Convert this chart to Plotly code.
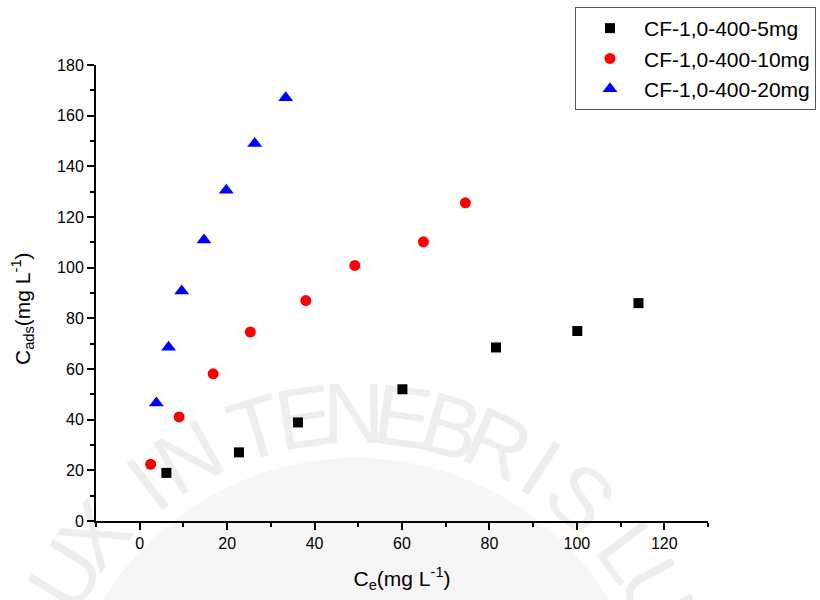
import math
import plotly.graph_objects as go

# Adsorption isotherm data: equilibrium concentration vs adsorbed concentration
ce_5mg = [6.1, 22.7, 36.2, 60.1, 81.5, 100.1, 114.1]
cads_5mg = [19.0, 27.1, 38.9, 52.0, 68.5, 75.0, 86.0]

ce_10mg = [2.5, 9.0, 16.8, 25.3, 38.0, 49.2, 64.9, 74.5]
cads_10mg = [22.4, 41.1, 58.1, 74.6, 87.0, 100.9, 110.2, 125.6]

ce_20mg = [3.8, 6.6, 9.6, 14.7, 19.8, 26.3, 33.4]
cads_20mg = [46.6, 68.6, 90.8, 110.9, 130.6, 149.0, 167.1]

series_names = ["CF-1,0-400-5mg", "CF-1,0-400-10mg", "CF-1,0-400-20mg"]

x_range = [-10, 130]
y_range = [0, 180]

# Plot area in pixels (canvas 820 x 600)
L, R_EDGE, T, B = 96, 708, 65, 521
W, H = R_EDGE - L, B - T

FONT = "Liberation Sans, Arial, sans-serif"

fig = go.Figure()
fig.add_trace(go.Scatter(
    x=ce_5mg, y=cads_5mg, mode="markers", name=series_names[0],
    marker=dict(symbol="square", size=10, color="#000000", line=dict(width=0)),
))
fig.add_trace(go.Scatter(
    x=ce_10mg, y=cads_10mg, mode="markers", name=series_names[1],
    marker=dict(symbol="circle", size=11, color="#ff0000", line=dict(width=0)),
))
fig.add_trace(go.Scatter(
    x=ce_20mg, y=cads_20mg, mode="markers", name=series_names[2],
    marker=dict(symbol="triangle-up", size=13, color="#0000ff", line=dict(width=0)),
))


def to_paper(px, py):
    return (px - L) / W, (B - py) / H


# Faint seal watermark in the background
shapes = []
seal_cx, seal_cy = 356, 755
disk_r = 297
x0, y0 = to_paper(seal_cx - disk_r, seal_cy + disk_r)
x1, y1 = to_paper(seal_cx + disk_r, seal_cy - disk_r)
shapes.append(dict(type="circle", xref="paper", yref="paper",
                   x0=x0, y0=y0, x1=x1, y1=y1, layer="below",
                   fillcolor="#f6f6f6", line=dict(width=0)))

motto = "LUX IN TENEBRIS LUCET"
ring_r = 350
step, space_extra = 8.3, 4.0
angle = -17.0 - 5 * step - 2 * space_extra   # so that the "T" of TENEBRIS sits at -17 deg
for ch in motto:
    if ch == " ":
        angle += space_extra
        continue
    th = math.radians(angle)
    px = seal_cx + ring_r * math.sin(th)
    py = seal_cy - ring_r * math.cos(th)
    if py < 595 and 0 < px < 820:
        xp, yp = to_paper(px, py)
        shapes.append(dict(
            type="rect", xref="paper", yref="paper",
            x0=xp - 0.02, x1=xp + 0.02, y0=yp - 0.02, y1=yp + 0.02,
            layer="below", line=dict(width=0), fillcolor="rgba(0,0,0,0)",
            label=dict(text=ch, textangle=angle, textposition="middle center",
                       font=dict(family=FONT, size=86, color="#eeeeee")),
        ))
    angle += step

axis_common = dict(
    showline=True, linecolor="#000000", linewidth=2,
    showgrid=False, zeroline=False,
    ticks="outside", ticklen=7, tickwidth=2, tickcolor="#000000",
    tickfont=dict(family=FONT, size=16, color="#000000"),
)
minor_ticks = dict(ticks="outside", ticklen=4, tickwidth=2, tickcolor="#000000",
                   dtick=10, tick0=0, showgrid=False)

fig.update_xaxes(
    range=x_range, tick0=0, dtick=20, minor=minor_ticks,
    title=dict(text="C<sub>e</sub>(mg L<sup>-1</sup>)",
               font=dict(family=FONT, size=21, color="#000000"), standoff=20),
    **axis_common,
)
fig.update_yaxes(
    range=y_range, tick0=0, dtick=20, minor=minor_ticks,
    **axis_common,
)

# y-axis title placed as a rotated annotation
yt_x, yt_y = to_paper(22, 309)
fig.add_annotation(
    text="C<sub>ads</sub>(mg L<sup>-1</sup>)", textangle=-90,
    xref="paper", yref="paper", x=yt_x, y=yt_y,
    xanchor="center", yanchor="middle", showarrow=False,
    font=dict(family=FONT, size=21, color="#000000"),
)

fig.update_layout(
    width=820, height=600,
    margin=dict(l=L, r=820 - R_EDGE, t=T, b=600 - B, autoexpand=False),
    paper_bgcolor="#ffffff", plot_bgcolor="rgba(0,0,0,0)",
    font=dict(family=FONT, color="#000000"),
    shapes=shapes,
    legend=dict(
        x=to_paper(575, 0)[0], y=to_paper(0, 7)[1],
        xanchor="left", yanchor="top",
        bordercolor="#555555", borderwidth=1, bgcolor="#ffffff",
        font=dict(family=FONT, size=21, color="#000000"),
        itemwidth=58, tracegroupgap=0,
    ),
)

fig.write_html("out.html")
